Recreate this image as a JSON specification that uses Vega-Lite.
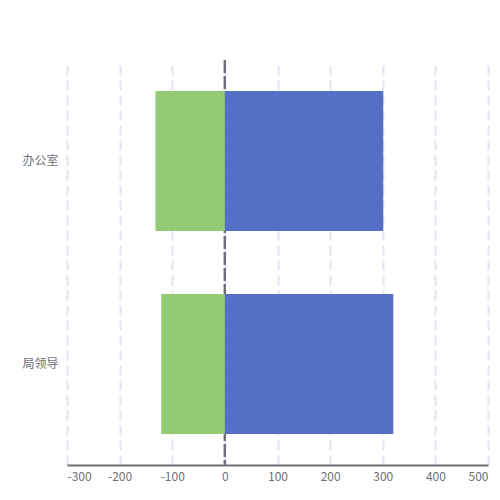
{
  "$schema": "https://vega.github.io/schema/vega-lite/v6.json",
  "width": 421,
  "height": 405,
  "autosize": "none",
  "padding": {"left": 67, "top": 60, "right": 12, "bottom": 35},
  "background": "white",
  "config": {"view": {"stroke": null}, "font": "Noto Sans CJK SC"},
  "data": {"values": [
    {"dept": "办公室", "type": "neg", "value": -132},
    {"dept": "办公室", "type": "pos", "value": 301},
    {"dept": "局领导", "type": "neg", "value": -121},
    {"dept": "局领导", "type": "pos", "value": 320}
  ]},
  "layer": [
    {
      "mark": {"type": "rule", "color": "#6e7079", "strokeWidth": 2, "strokeDash": [13, 3]},
      "encoding": {"x": {"datum": 0, "type": "quantitative"}}
    },
    {
      "mark": {"type": "bar"},
      "encoding": {
        "y": {"field": "dept", "type": "nominal", "sort": ["办公室", "局领导"],
          "scale": {"paddingInner": 0.31, "paddingOuter": 0.153},
          "axis": {"title": null, "domain": false, "ticks": false, "grid": false, "labelColor": "#6e7079", "labelFontSize": 12, "labelPadding": 9}},
        "x": {"field": "value", "type": "quantitative", "stack": null,
          "scale": {"domain": [-300, 500], "nice": false},
          "axis": {"title": null, "values": [-300, -200, -100, 0, 100, 200, 300, 400, 500],
            "labelExpr": "'' + datum.value",
            "grid": true, "gridDash": [10, 5], "gridColor": "#e0e6f1", "gridWidth": 2,
            "domainColor": "#6e7079", "domainWidth": 2, "ticks": false,
            "labelColor": "#6e7079", "labelFontSize": 12, "labelPadding": 6}},
        "color": {"field": "type", "type": "nominal", "scale": {"domain": ["neg", "pos"], "range": ["#91cc75", "#5470c6"]}, "legend": null}
      }
    }
  ]
}
